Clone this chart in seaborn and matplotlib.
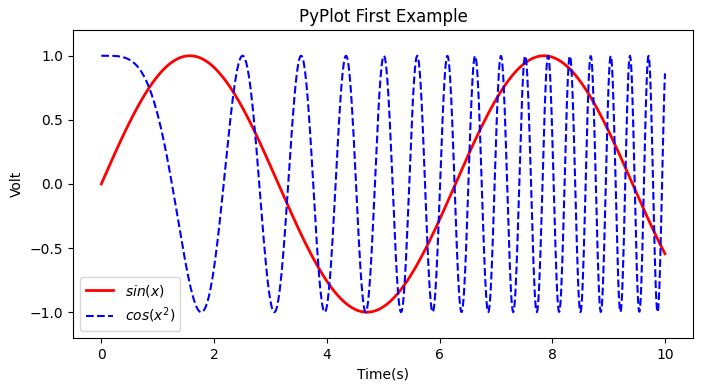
import numpy as np
import pandas as pd
import matplotlib
matplotlib.use("Agg")
import matplotlib.pyplot as plt
import seaborn as sns

# The two curves are the functions named in the legend, sampled on 0..10
time_s = np.linspace(0, 10, 1000)
sin_volt = np.sin(time_s)
cos_sq_volt = np.cos(time_s ** 2)

df = pd.DataFrame({"time": time_s, "sin": sin_volt, "cos": cos_sq_volt})

fig = plt.figure(figsize=(7.03, 3.91), dpi=100)
ax = fig.add_axes([0.104, 0.136, 0.882, 0.787])

sns.lineplot(data=df, x="time", y="sin", ax=ax, color="red", linewidth=2,
             estimator=None, sort=False, label="$sin(x)$")
sns.lineplot(data=df, x="time", y="cos", ax=ax, color="blue", linewidth=1.5,
             linestyle="--", estimator=None, sort=False, label="$cos(x^2)$")

ax.set_ylim(-1.2, 1.2)
ax.set_title("PyPlot First Example")
ax.set_xlabel("Time(s)")
ax.set_ylabel("Volt")
ax.legend(loc="lower left")

fig.savefig("out.png", dpi=100)
